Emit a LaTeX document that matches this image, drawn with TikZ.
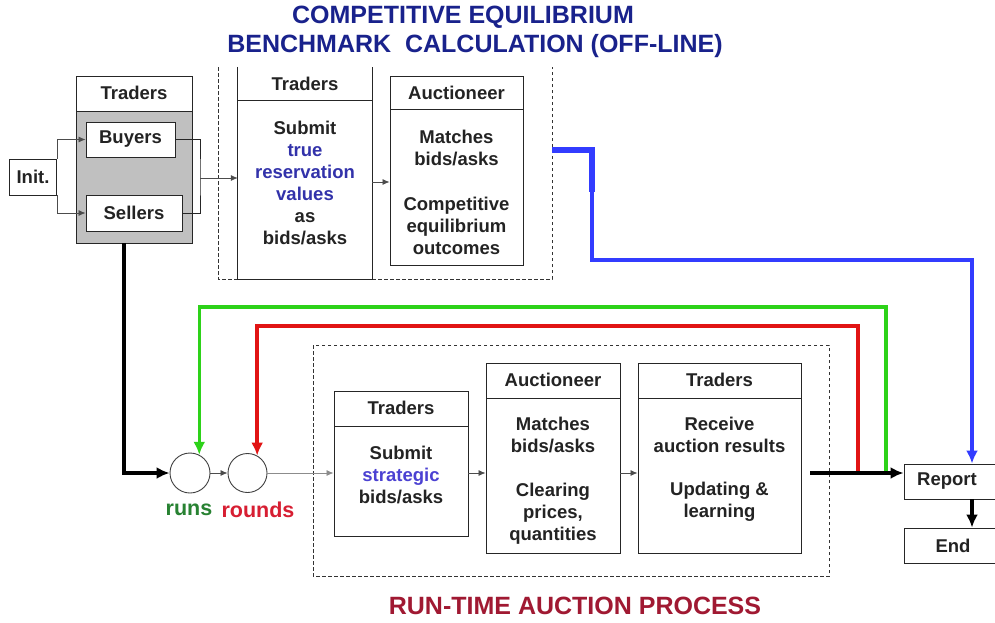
\documentclass[tikz,border=0pt]{standalone}
\usepackage{fontspec}
\setmainfont{Liberation Sans}
\usetikzlibrary{arrows.meta}
\definecolor{ttlblue}{RGB}{25,34,140}
\definecolor{valblue}{RGB}{50,50,170}
\definecolor{stratblue}{RGB}{75,65,210}
\definecolor{bline}{RGB}{50,60,255}
\definecolor{gline}{RGB}{45,210,25}
\definecolor{rline}{RGB}{225,20,20}
\definecolor{runsgreen}{RGB}{40,130,50}
\definecolor{roundsred}{RGB}{215,30,50}
\definecolor{procred}{RGB}{160,25,50}
\definecolor{boxgray}{RGB}{192,192,192}
\definecolor{txt}{RGB}{35,35,35}
\tikzset{
  box/.style={draw=black!85, line width=0.9pt, inner sep=0pt},
  lbl/.style={font=\fontsize{18.5}{22}\selectfont\bfseries, text=txt, align=center, inner sep=0pt},
  ttl/.style={font=\fontsize{25}{29}\selectfont\bfseries, inner sep=0pt},
  dashbox/.style={draw=black!80, line width=0.9pt, dash pattern=on 3.5pt off 2.5pt},
  thin/.style={draw=black!70, line width=0.8pt, -{Latex[length=7pt,width=6pt]}},
  fat/.style={line width=3.6pt, -{Latex[length=13pt,width=12pt]}}
}
\begin{document}
\begin{tikzpicture}[x=1pt,y=-1pt]
\clip (0,0) rectangle (995,622);
\fill[white] (0,0) rectangle (995,622);

\node[ttl, text=ttlblue] (ttla) at (463,17) {COMPETITIVE EQUILIBRIUM};
\node[ttl, text=ttlblue] (ttlb) at (475,46) {BENCHMARK\ \ CALCULATION (OFF-LINE)};
\node[ttl, text=procred] (ttlc) at (575,606) {RUN-TIME AUCTION PROCESS};

\fill[boxgray] (76,111) rectangle (192,243);
\node[box, minimum width=116pt, minimum height=167pt] (grp) at (134,159.5) {};
\draw[box] (76,111) -- (192,111);
\node[lbl] (grph) at (134,93) {Traders};
\node[box, fill=white, minimum width=89pt, minimum height=35pt] (buy) at (130.5,139.5) {};
\node[lbl] at (buy) {Buyers};
\node[box, fill=white, minimum width=96pt, minimum height=36pt] (sel) at (134,213) {};
\node[lbl] at (sel) {Sellers};
\node[box, minimum width=47pt, minimum height=36pt] (init) at (33,177) {};
\node[lbl] at (init) {Init.};

\draw[thin] (init.north east) |- (buy.west);
\draw[thin] (init.south east) |- (sel.west);
\coordinate (mrg) at (200,178);
\draw[draw=black!85, line width=0.9pt] (buy.east) -| (mrg) |- (sel.east);

\draw[dashbox] (218,67) -- (218,279) -- (552,279) -- (552,67);
\node[minimum width=134pt, minimum height=212pt, inner sep=0pt] (trT) at (305,173) {};
\draw[box] (trT.north west) -- (trT.south west) -- (trT.south east) -- (trT.north east);
\draw[box] (238,100) -- (372,100);
\node[lbl] (trTh) at (305,84) {Traders};
\node[lbl] (trTb) at (305,183) {Submit\\\textcolor{valblue}{true}\\\textcolor{valblue}{reservation}\\\textcolor{valblue}{values}\\as\\bids/asks};
\draw[thin] (mrg) -- (mrg -| trT.west);

\node[box, minimum width=133pt, minimum height=189pt] (auA) at (456.5,170.5) {};
\draw[box] (390,109) -- (523,109);
\node[lbl] (auAh) at (456.5,93) {Auctioneer};
\node[lbl] (auAa) at (456.5,147.5) {Matches\\bids/asks};
\node[lbl] (auAb) at (456.5,226) {Competitive\\equilibrium\\outcomes};
\coordinate (q) at (372,182);
\draw[thin] (q) -- (q -| auA.west);

\node[box, minimum width=120pt, minimum height=35pt] (rep) at (964,481.5) {};
\node[lbl] (repl) at (947,481.5) {Report};
\node[box, minimum width=120pt, minimum height=35pt] (end) at (964,545.5) {};
\node[lbl] (endl) at (953,545.5) {End};
\coordinate (rx) at (972,0);

\coordinate (bst) at (552,150);
\draw[bline, line width=6pt] (bst) -- (592,150) -- (592,192);
\draw[bline, fat, line width=3.4pt] (592,188) |- (rx |- 0,260) -- (rx |- rep.north);
\draw[fat] (rx |- rep.south) -- (rx |- end.north);

\draw[dashbox] (313,345) rectangle (829,576);
\node[box, minimum width=134pt, minimum height=145pt] (trB) at (401,463.5) {};
\draw[box] (334,426) -- (468,426);
\node[lbl] (trBh) at (401,408) {Traders};
\node[lbl] (trBb) at (401,474.5) {Submit\\\textcolor{stratblue}{strategic}\\bids/asks};

\node[box, minimum width=134pt, minimum height=190pt] (auB) at (553,458) {};
\draw[box] (486,398) -- (620,398);
\node[lbl] (auBh) at (553,380) {Auctioneer};
\node[lbl] (auBa) at (553,434.5) {Matches\\bids/asks};
\node[lbl] (auBb) at (553,514) {Clearing\\prices,\\quantities};

\node[box, minimum width=163pt, minimum height=190pt] (trR) at (719.5,458) {};
\draw[box] (638,398) -- (801,398);
\node[lbl] (trRh) at (719.5,380) {Traders};
\node[lbl] (trRa) at (719.5,435) {Receive\\auction results};
\node[lbl] (trRb) at (719.5,502) {Updating \&\\learning};

\node[draw=black!75, line width=0.9pt, circle, minimum size=40pt, inner sep=0pt] (runs) at (190,473) {};
\node[draw=black!75, line width=0.9pt, circle, minimum size=39pt, inner sep=0pt] (rnds) at (247.5,473) {};
\node[lbl, font=\fontsize{21.5}{24}\selectfont\bfseries, text=runsgreen] (runsl) at (189,510) {runs};
\node[lbl, font=\fontsize{21.5}{24}\selectfont\bfseries, text=roundsred] (rndsl) at (258,510) {rounds};

\coordinate (ymid) at (0,473);
\coordinate (grpS) at (124,243);
\draw[fat] (grpS) |- (runs.west);
\draw[thin] (runs.east) -- (rnds.west);
\draw[thin, draw=black!45] (rnds.east) -- (rnds.east -| trB.west);
\draw[thin] (trB.east |- ymid) -- (auB.west |- ymid);
\draw[thin] (auB.east |- ymid) -- (trR.west |- ymid);

\coordinate (gst) at (886,473);
\coordinate (rst) at (858,473);
\draw[gline, line width=3.4pt, -{Latex[length=13pt,width=12pt]}] (gst) |- (runs.63 |- 0,307) -- (runs.63);
\draw[rline, line width=3.4pt, -{Latex[length=13pt,width=12pt]}] (rst) |- (rnds.61 |- 0,326) -- (rnds.61);
\coordinate (ost) at (810,473);
\draw[fat] (ost) -- (rep.west |- ymid);
\end{tikzpicture}
\end{document}
